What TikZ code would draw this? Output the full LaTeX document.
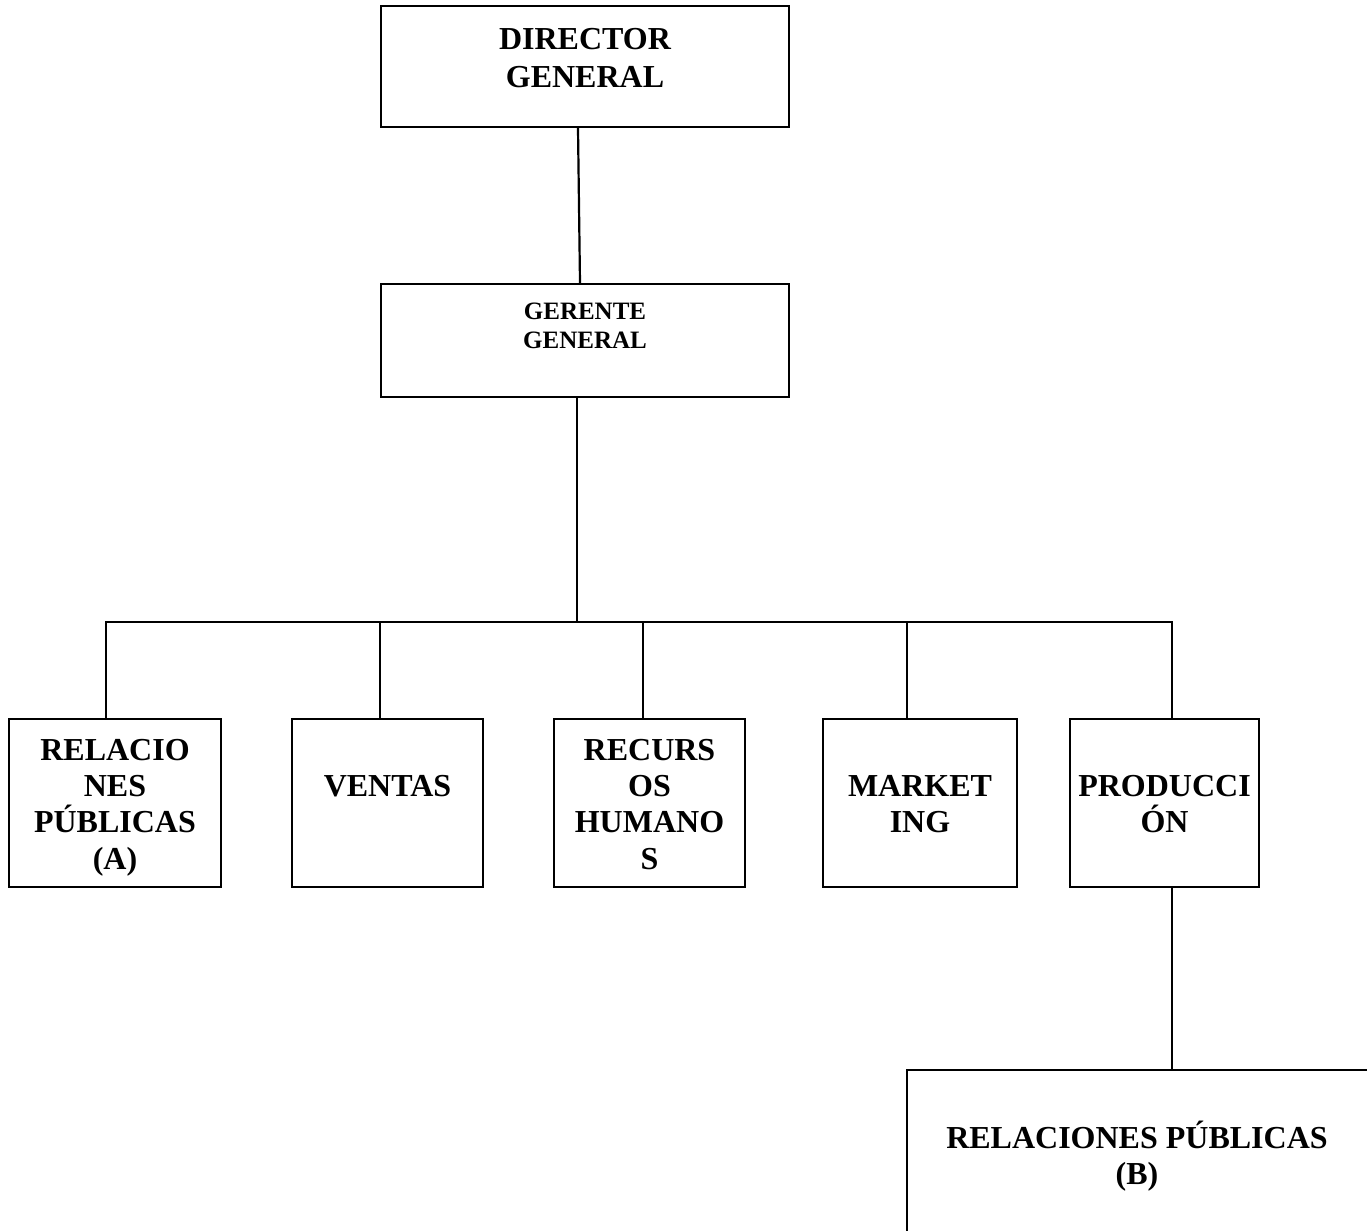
\documentclass[tikz,border=0pt]{standalone}
\usepackage{fontspec}
\setmainfont{Liberation Serif}
\usetikzlibrary{positioning}
\usetikzlibrary{calc}

\tikzset{
  caja/.style={draw, inner sep=0pt, minimum height=84pt},
  letra/.style={font=\bfseries\fontsize{16}{18.2}\selectfont, align=center, anchor=north, inner sep=0pt},
  letrachica/.style={letra, font=\bfseries\fontsize{12.5}{14.5}\selectfont},
}

\begin{document}
\begin{tikzpicture}[x=0.5pt, y=-0.5pt, line width=1.1pt]
 \useasboundingbox (0,0) rectangle (1367,1231);
 \clip (0,0) rectangle (1367,1231);

 \def\tope{\rule{0pt}{16pt}}

 %level 1
 \node[caja, minimum width=204pt, minimum height=60.5pt] (director) at (585,66.5) {};
 \node[letra, font=\bfseries\fontsize{16}{19}\selectfont] (directortxt) at (585,16) {\tope DIRECTOR\\GENERAL};

 %level 2
 \node[caja, minimum width=204pt, minimum height=56.5pt] (gerente) at (585,340.5) {};
 \node[letrachica] (gerentetxt) at (585,286) {\tope GERENTE\\GENERAL};

 \draw ([xshift=-3.5pt]director.south) -- ([xshift=-2.5pt]gerente.north);

 \coordinate (bus) at (577,622);
 \draw ([xshift=-4pt]gerente.south) -- (bus);

 %level 3
 \foreach \cx/\w/\nombre/\dl/\texto in {
     115/106/relA/-4.5/{\tope RELACIO\\NES\\PÚBLICAS\\(A)},
     387.5/95.5/ventas/-3.75/{\tope\\VENTAS},
     649.5/95.5/recursos/-3.25/{\tope RECURS\\OS\\HUMANO\\S},
     920/97/marketing/-6.5/{\tope\\MARKET\\ING},
     1164.5/94.5/produccion/3.75/{\tope\\PRODUCCI\\ÓN}} {
   \node[caja, minimum width=\w pt] (\nombre) at (\cx,803) {};
   \node[letra] (\nombre txt) at (\cx,727) {\texto};
   \draw (bus) -| ([xshift=\dl pt]\nombre.north);
 }

 %level 4
 \node[caja, minimum width=296.5pt, minimum height=115pt] (relB) at (1203.5,1185) {};
 \node[letra] (relBtxt) at (1137,1115) {\tope RELACIONES PÚBLICAS\\(B)};

 \draw ([xshift=3.75pt]produccion.south) -- ([xshift=3.75pt]produccion.south |- relB.north);

\end{tikzpicture}
\end{document}
